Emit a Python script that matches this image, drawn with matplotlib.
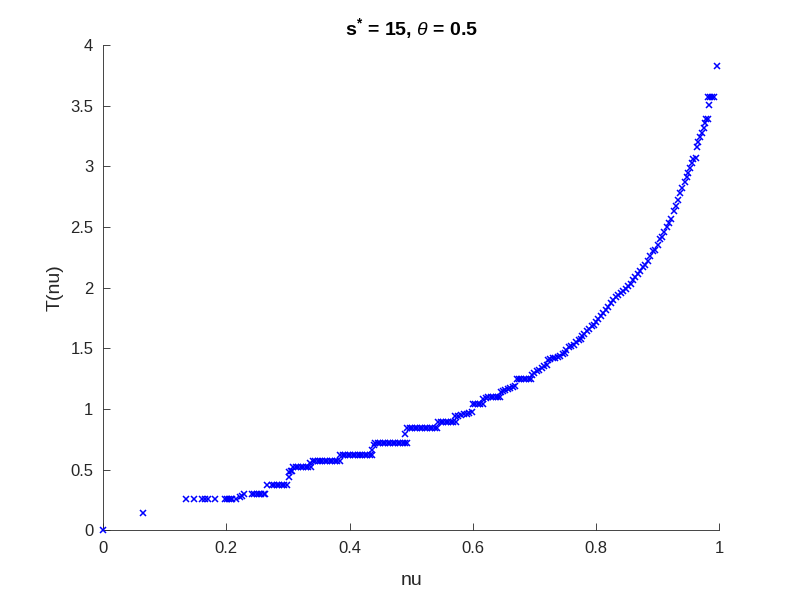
import matplotlib
matplotlib.use("Agg")
from matplotlib import pyplot as plt

# nu / T(nu) pairs, grouped roughly by step
nu = [0.0, 0.064,
      0.134, 0.148, 0.161, 0.166, 0.171, 0.182, 0.198, 0.201, 0.204, 0.207, 0.209, 0.215,
      0.222, 0.226, 0.228,
      0.241, 0.245, 0.249, 0.253, 0.257, 0.261, 0.263,
      0.266,
      0.274, 0.278, 0.282, 0.286, 0.290, 0.294, 0.298,
      0.301, 0.301, 0.305, 0.307,
      0.309, 0.313, 0.317, 0.321, 0.325, 0.329, 0.333, 0.337,
      0.336,
      0.340, 0.344, 0.348, 0.352, 0.356, 0.360, 0.364, 0.368, 0.372, 0.376, 0.380, 0.384,
      0.385, 0.389, 0.393, 0.397, 0.401, 0.405, 0.409, 0.413, 0.417, 0.421, 0.425, 0.429, 0.433, 0.437,
      0.436, 0.440,
      0.442, 0.446, 0.450, 0.454, 0.458, 0.462, 0.466, 0.470, 0.474, 0.478, 0.482, 0.486, 0.490, 0.493,
      0.490,
      0.494, 0.498, 0.502, 0.506, 0.510, 0.514, 0.518, 0.522, 0.526, 0.530, 0.534, 0.538, 0.542,
      0.544, 0.548, 0.552, 0.556, 0.560, 0.564, 0.568, 0.572,
      0.571, 0.576, 0.581, 0.586, 0.590, 0.594, 0.598,
      0.600, 0.604, 0.608, 0.612, 0.616,
      0.617, 0.621, 0.625, 0.629, 0.633, 0.637, 0.641, 0.644,
      0.645, 0.649, 0.653, 0.657, 0.661, 0.665, 0.669,
      0.671, 0.675, 0.679, 0.683, 0.687, 0.691, 0.695,
      0.696, 0.700, 0.704, 0.708, 0.712, 0.716, 0.720,
      0.722, 0.726, 0.730, 0.734, 0.738, 0.742, 0.746, 0.750,
      0.752, 0.756, 0.760, 0.764, 0.768, 0.772, 0.775,
      0.777, 0.781, 0.785, 0.789, 0.793, 0.796,
      0.800, 0.804, 0.808, 0.812, 0.816, 0.820, 0.824, 0.828,
      0.832, 0.836, 0.840, 0.844, 0.848, 0.852, 0.856, 0.860,
      0.864, 0.868, 0.872, 0.876, 0.880, 0.884, 0.888, 0.892,
      0.896, 0.900, 0.904, 0.907, 0.911, 0.915, 0.918, 0.922, 0.926, 0.929,
      0.933, 0.937, 0.940, 0.944, 0.947, 0.950, 0.953, 0.956, 0.958, 0.962,
      0.964, 0.966, 0.969, 0.972, 0.975, 0.977, 0.979, 0.981,
      0.983,
      0.982, 0.985, 0.988, 0.991,
      0.996]

T = [0.0, 0.138,
     0.256, 0.256, 0.256, 0.256, 0.256, 0.256, 0.256, 0.256, 0.256, 0.256, 0.256, 0.256,
     0.275, 0.285, 0.297,
     0.297, 0.297, 0.297, 0.297, 0.297, 0.297, 0.297,
     0.371,
     0.371, 0.371, 0.371, 0.371, 0.371, 0.371, 0.371,
     0.44, 0.48, 0.489, 0.489,
     0.522, 0.522, 0.522, 0.522, 0.522, 0.522, 0.522, 0.522,
     0.555,
     0.571, 0.571, 0.571, 0.571, 0.571, 0.571, 0.571, 0.571, 0.571, 0.571, 0.571, 0.571,
     0.619, 0.619, 0.619, 0.619, 0.619, 0.619, 0.619, 0.619, 0.619, 0.619, 0.619, 0.619, 0.619, 0.619,
     0.66, 0.70,
     0.715, 0.715, 0.715, 0.715, 0.715, 0.715, 0.715, 0.715, 0.715, 0.715, 0.715, 0.715, 0.715, 0.715,
     0.79,
     0.844, 0.844, 0.844, 0.844, 0.844, 0.844, 0.844, 0.844, 0.844, 0.844, 0.844, 0.844, 0.844,
     0.893, 0.893, 0.893, 0.893, 0.893, 0.893, 0.893, 0.893,
     0.943, 0.945, 0.950, 0.955, 0.960, 0.970, 0.976,
     1.04, 1.04, 1.04, 1.04, 1.04,
     1.08, 1.09, 1.10, 1.10, 1.10, 1.10, 1.10, 1.10,
     1.14, 1.15, 1.16, 1.165, 1.17, 1.18, 1.19,
     1.245, 1.245, 1.245, 1.245, 1.245, 1.245, 1.245,
     1.28, 1.30, 1.31, 1.32, 1.34, 1.35, 1.36,
     1.40, 1.41, 1.42, 1.42, 1.43, 1.44, 1.45, 1.46,
     1.49, 1.51, 1.52, 1.53, 1.55, 1.57, 1.58,
     1.60, 1.62, 1.64, 1.66, 1.68, 1.69,
     1.72, 1.74, 1.77, 1.79, 1.82, 1.84, 1.87, 1.90,
     1.92, 1.94, 1.96, 1.97, 1.99, 2.01, 2.03, 2.06,
     2.09, 2.11, 2.14, 2.17, 2.19, 2.22, 2.26, 2.30,
     2.31, 2.35, 2.40, 2.42, 2.46, 2.50, 2.53, 2.57, 2.63, 2.67,
     2.72, 2.78, 2.82, 2.87, 2.91, 2.95, 2.99, 3.03, 3.06, 3.07,
     3.16, 3.20, 3.24, 3.28, 3.32, 3.36, 3.39, 3.39,
     3.505,
     3.574, 3.574, 3.574, 3.574,
     3.83]

plt.rcParams['font.family'] = ['Liberation Sans', 'DejaVu Sans']
plt.rcParams['mathtext.fontset'] = 'custom'
plt.rcParams['mathtext.it'] = 'Liberation Sans:italic'
plt.rcParams['mathtext.bf'] = 'Liberation Sans:bold'
plt.rcParams['mathtext.rm'] = 'Liberation Sans'
axcol = (0.15, 0.15, 0.15)

fig = plt.figure(figsize=(7.93, 5.95), dpi=100)
ax = fig.add_axes([0.13, 0.109, 0.777, 0.815])

ax.plot(nu, T, 'x', color='blue', markersize=4, markeredgewidth=1.1, clip_on=False, zorder=3)

ax.set_xlim(0, 1)
ax.set_ylim(0, 4)
ax.set_xticks([0, 0.2, 0.4, 0.6, 0.8, 1])
ax.set_xticklabels(['0', '0.2', '0.4', '0.6', '0.8', '1'])
ax.set_yticks([0, 0.5, 1, 1.5, 2, 2.5, 3, 3.5, 4])
ax.set_yticklabels(['0', '0.5', '1', '1.5', '2', '2.5', '3', '3.5', '4'])

ax.spines['top'].set_visible(False)
ax.spines['right'].set_visible(False)
for s in ['left', 'bottom']:
    ax.spines[s].set_color(axcol)
    ax.spines[s].set_linewidth(0.6)
ax.tick_params(direction='in', length=5, width=0.6, colors=axcol, labelsize=12)
ax.tick_params(axis='x', pad=8)
ax.tick_params(axis='y', pad=7)

ax.set_xlabel('nu', fontsize=14, color=axcol, labelpad=11)
ax.set_ylabel('T(nu)', fontsize=14, color=axcol, labelpad=5)
ax.set_title(r'$\mathbf{s^{*}}$ = 15, $\theta$ = 0.5', fontsize=14, fontweight='bold', pad=7)

fig.savefig('out.png', dpi=100)
